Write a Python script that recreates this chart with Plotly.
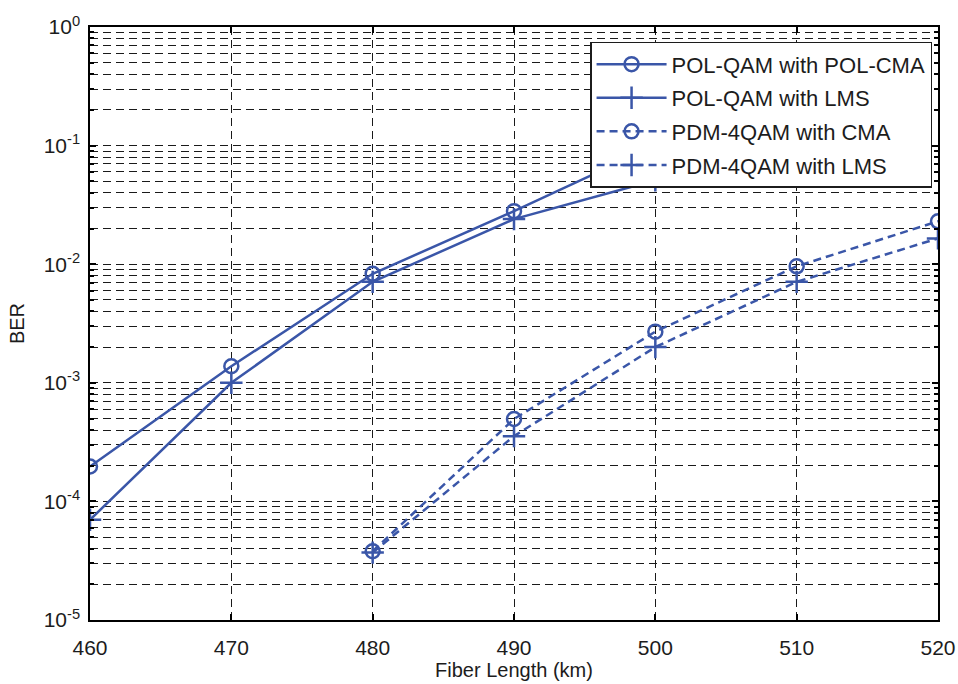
import plotly.graph_objects as go

# ---- data ----
fiber_km = [460, 470, 480, 490, 500, 510, 520]
pol_qam_cma = [1.97e-4, 1.38e-3, 8.3e-3, 0.028, 0.10, None, None]
pol_qam_lms = [7.0e-5, 1.0e-3, 7.1e-3, 0.024, 0.051, None, None]
pdm_4qam_cma = [None, None, 3.8e-5, 4.95e-4, 2.7e-3, 9.6e-3, 0.023]
pdm_4qam_lms = [None, None, 3.7e-5, 3.55e-4, 2.0e-3, 7.1e-3, 0.0165]

series_names = ["POL-QAM with POL-CMA", "POL-QAM with LMS",
                "PDM-4QAM with CMA", "PDM-4QAM with LMS"]

x_ticks = [460, 470, 480, 490, 500, 510, 520]
y_ticks = [1e-5, 1e-4, 1e-3, 1e-2, 1e-1, 1e0]
y_ticktext = ["10<sup>-5</sup>", "10<sup>-4</sup>", "10<sup>-3</sup>",
              "10<sup>-2</sup>", "10<sup>-1</sup>", "10<sup>0</sup>"]
y_minor = [m * 10.0 ** e for e in range(-5, 0) for m in range(2, 10)]

BLUE = "#3a56a8"
INK = "#1c1c1c"
FONT = "Liberation Sans, Arial, Helvetica, sans-serif"

fig = go.Figure()

specs = [
    (pol_qam_cma, "solid", "circle-open", 14),
    (pol_qam_lms, "solid", "cross-thin-open", 16),
    (pdm_4qam_cma, "8px,5px", "circle-open", 14),
    (pdm_4qam_lms, "8px,5px", "cross-thin-open", 16),
]
for i, (ys, dash, sym, size) in enumerate(specs):
    fig.add_trace(go.Scatter(
        x=fiber_km, y=ys, name=series_names[i], mode="lines+markers",
        line=dict(color=BLUE, width=2.5, dash=dash),
        marker=dict(symbol=sym, size=size, color=BLUE,
                    line=dict(color=BLUE, width=2.5)),
        legendgroup=f"g{i}", connectgaps=False,
    ))

grid = dict(showgrid=True, gridcolor="#1a1a1a", gridwidth=1, griddash="8px,5px")

fig.update_xaxes(
    range=[460, 520], tickvals=x_ticks, ticks="inside", ticklen=6,
    tickwidth=1.5, tickcolor="black", showline=True, linecolor="black",
    linewidth=1.5, mirror="ticks", zeroline=False, automargin=False,
    ticklabelstandoff=8, ticklabeloverflow="allow",
    tickfont=dict(size=21, color=INK, family=FONT),
    title=dict(text="Fiber Length (km)", font=dict(size=20, color=INK, family=FONT),
               standoff=0),
    **grid,
)
fig.update_yaxes(
    type="log", range=[-5, 0], tickvals=y_ticks, ticktext=y_ticktext,
    ticks="inside", ticklen=6, tickwidth=1.5, tickcolor="black",
    showline=True, linecolor="black", linewidth=1.5, mirror="ticks",
    zeroline=False, ticklabelstandoff=4, automargin=False,
    tickfont=dict(size=21, color=INK, family=FONT),
    title=dict(text="BER", font=dict(size=20, color=INK, family=FONT), standoff=14),
    minor=dict(tickvals=y_minor, ticks="inside", ticklen=4, tickcolor="black",
               showgrid=True, gridcolor="#1a1a1a", gridwidth=1, griddash="8px,5px"),
    **grid,
)

fig.update_layout(
    width=958, height=684,
    margin=dict(l=90, r=20, t=27, b=64),
    paper_bgcolor="white", plot_bgcolor="white",
    font=dict(family=FONT, color=INK),
    legend=dict(
        x=0.993, y=0.975, xanchor="right", yanchor="top",
        bgcolor="white", bordercolor="#1c1c1c", borderwidth=1.5,
        font=dict(size=22, color=INK, family=FONT),
        traceorder="grouped", tracegroupgap=2, itemwidth=70,
    ),
)

fig.write_html("out.html")
